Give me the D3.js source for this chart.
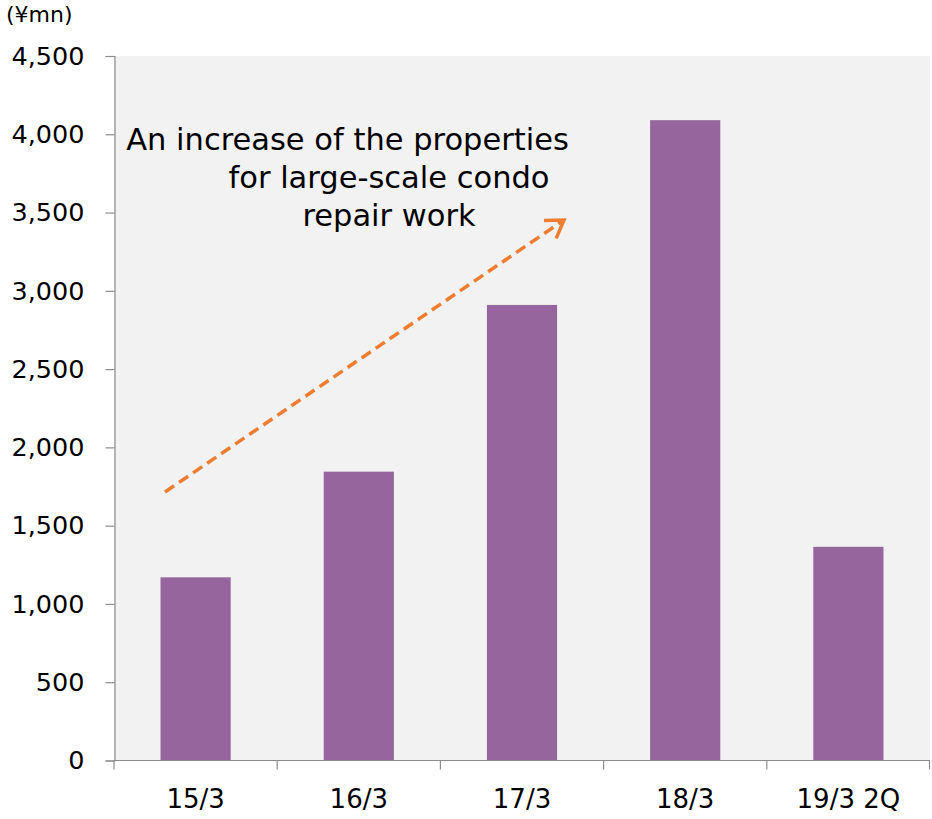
<!DOCTYPE html>
<html>
<head>
<meta charset="utf-8">
<script src="https://cdn.jsdelivr.net/npm/d3@7"></script>
<style>
  html, body { margin: 0; padding: 0; background: #fff; }
  svg { display: block; font-family: "DejaVu Sans", Verdana, sans-serif; }
</style>
</head>
<body>
<svg id="chart" width="932" height="819"></svg>
<script>
// Sales by fiscal period (¥mn)
const categories = ["15/3", "16/3", "17/3", "18/3", "19/3 2Q"];
const salesValues = [1170, 1845, 2910, 4090, 1365];
const yTicks = [0, 500, 1000, 1500, 2000, 2500, 3000, 3500, 4000, 4500];
const unitLabel = "(¥mn)";
const noteLines = ["An increase of the properties", "for large-scale condo", "repair work"];

const svg = d3.select("#chart");
const margin = { left: 114, right: 2, top: 56, bottom: 58 };
const W = 932, H = 819;
const x0 = margin.left, x1 = W - margin.right;
const y0 = H - margin.bottom, y1 = margin.top;

const x = d3.scaleBand().domain(categories).range([x0, x1])
  .paddingInner(0.57).paddingOuter(0.285);
const y = d3.scaleLinear().domain([0, 4500]).range([y0 - 0.5, y1]);

// plot background
svg.append("rect").attr("x", x0).attr("y", y1)
  .attr("width", x1 - x0).attr("height", y0 - y1).attr("fill", "#f2f2f2");

// bars
svg.append("g").selectAll("rect").data(categories).join("rect")
  .attr("x", d => x(d))
  .attr("width", x.bandwidth())
  .attr("y", (d, i) => y(salesValues[i]))
  .attr("height", (d, i) => y(0) - y(salesValues[i]))
  .attr("fill", "#96659e");

// y axis
const yAxis = svg.append("g").attr("transform", `translate(${x0 + 0.5},0)`)
  .call(d3.axisLeft(y).tickValues(yTicks).tickSize(9).tickPadding(21)
    .tickFormat(d3.format(",")));
yAxis.select(".domain").attr("stroke", "#8c8c8c").attr("stroke-width", 1.2);
yAxis.selectAll(".tick line").attr("stroke", "#8c8c8c").attr("stroke-width", 1.2);
yAxis.selectAll(".tick text").attr("font-size", 25.5)
  .attr("font-family", "DejaVu Sans, sans-serif").attr("fill", "#000");

// x axis with boundary ticks between categories
const xAxisG = svg.append("g").attr("transform", `translate(0,${y0 - 0.5})`);
xAxisG.append("line").attr("x1", x0).attr("x2", x1)
  .attr("stroke", "#8c8c8c").attr("stroke-width", 1.2);
const step = x.step();
const bounds = d3.range(categories.length + 1).map(i => x0 + i * step);
xAxisG.selectAll("line.b").data(bounds).join("line").attr("class", "b")
  .attr("x1", d => Math.min(d, x1 - 0.5)).attr("x2", d => Math.min(d, x1 - 0.5))
  .attr("y1", 0).attr("y2", 9)
  .attr("stroke", "#8c8c8c").attr("stroke-width", 1.2);
xAxisG.selectAll("text").data(categories).join("text")
  .attr("x", d => x(d) + x.bandwidth() / 2)
  .attr("y", 47.5)
  .attr("text-anchor", "middle")
  .attr("font-size", 26)
  .attr("fill", "#000")
  .text(d => d);

// unit label
svg.append("text").attr("x", 6).attr("y", 22)
  .attr("font-size", 22).attr("fill", "#000").text(unitLabel);

// trend arrow
const arrowStart = [165, 492], arrowEnd = [564, 220];
svg.append("line")
  .attr("x1", arrowStart[0]).attr("y1", arrowStart[1])
  .attr("x2", arrowEnd[0]).attr("y2", arrowEnd[1])
  .attr("stroke", "#ed7d31").attr("stroke-width", 3.5)
  .attr("stroke-dasharray", "11,6");
const ang = Math.atan2(arrowEnd[1] - arrowStart[1], arrowEnd[0] - arrowStart[0]);
const headLen = 20, headAng = Math.PI / 5.5;
const p1 = [arrowEnd[0] - headLen * Math.cos(ang - headAng), arrowEnd[1] - headLen * Math.sin(ang - headAng)];
const p2 = [arrowEnd[0] - headLen * Math.cos(ang + headAng), arrowEnd[1] - headLen * Math.sin(ang + headAng)];
svg.append("path")
  .attr("d", `M${p1[0]},${p1[1]}L${arrowEnd[0]},${arrowEnd[1]}L${p2[0]},${p2[1]}`)
  .attr("fill", "none").attr("stroke", "#ed7d31").attr("stroke-width", 3.5)
  .attr("stroke-linejoin", "miter");

// annotation text
const noteCenters = [347.5, 389, 389];
svg.append("g").selectAll("text").data(noteLines).join("text")
  .attr("x", (d, i) => noteCenters[i])
  .attr("y", (d, i) => 150 + i * 38)
  .attr("text-anchor", "middle")
  .attr("font-size", 30.5)
  .attr("fill", "#000")
  .text(d => d);
</script>
</body>
</html>
